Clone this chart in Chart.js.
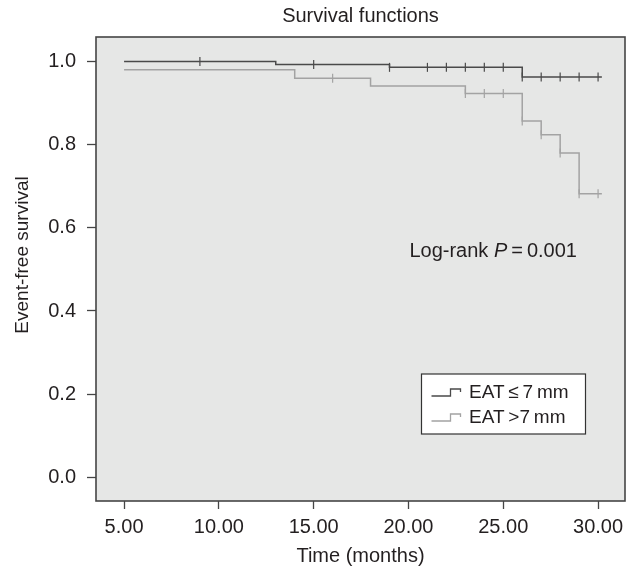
<!DOCTYPE html>
<html>
<head>
<meta charset="utf-8">
<script src="https://cdn.jsdelivr.net/npm/chart.js@4.4.1/dist/chart.umd.min.js"></script>
<style>
  html, body { margin: 0; padding: 0; background: #fff; }
  #wrap { width: 637px; height: 571px; }
</style>
</head>
<body>
<div id="wrap"><canvas id="km" width="637" height="571"></canvas></div>
<script>
// Kaplan-Meier steps: time (months) and survival after the event
const lowTimes = [5, 13, 19, 26, 30.2];
const lowSurv = [1.0, 0.993, 0.986, 0.963, 0.963];
const highTimes = [5, 14, 18, 23, 26, 27, 28, 29, 30.2];
const highSurv = [0.980, 0.960, 0.941, 0.923, 0.857, 0.824, 0.780, 0.682, 0.682];

// censored cases (time)
const lowCensor = [9, 15, 19, 21, 22, 23, 24, 25, 26, 27, 28, 29, 30];
const highCensor = [16, 23, 24, 25, 26, 27, 28, 29, 30];

const xTicks = [5, 10, 15, 20, 25, 30];
const yTicks = [0, 0.2, 0.4, 0.6, 0.8, 1.0];
const groupLabels = ["EAT\u2009\u2264\u20097\u2009mm", "EAT\u2009>7\u2009mm"];

const FONT = "'Liberation Sans', Arial, Helvetica, sans-serif";
const TEXT = "#231f20";
const DARK = "#4a4a4a";
const LIGHT = "#a3a3a3";
const FRAME = "#454545";

function survAt(times, surv, t) {
  let s = surv[0];
  for (let i = 0; i < times.length; i++) {
    if (times[i] <= t) s = surv[i];
  }
  return s;
}

const stepData = (times, surv) => times.map((t, i) => ({ x: t, y: surv[i] }));
const censorData = (cens, times, surv) => cens.map(t => ({ x: t, y: survAt(times, surv, t) }));

// grey plot background + frame
const plotFrame = {
  id: "plotFrame",
  beforeDatasetsDraw(chart) {
    const { ctx, chartArea: a } = chart;
    ctx.save();
    ctx.fillStyle = "#e6e7e6";
    ctx.fillRect(a.left, a.top, a.right - a.left, a.bottom - a.top);
    ctx.strokeStyle = FRAME;
    ctx.lineWidth = 1.6;
    ctx.strokeRect(a.left, a.top, a.right - a.left, a.bottom - a.top);
    ctx.restore();
  }
};

// y axis title (sits a little above the middle of the axis in the original)
const yTitle = {
  id: "yTitle",
  afterDraw(chart) {
    const { ctx, chartArea: a } = chart;
    ctx.save();
    ctx.translate(23, a.top + 218);
    ctx.rotate(-Math.PI / 2);
    ctx.fillStyle = TEXT;
    ctx.font = "19px " + FONT;
    ctx.textAlign = "center";
    ctx.textBaseline = "middle";
    ctx.fillText("Event-free survival", 0, 0);
    ctx.restore();
  }
};

// log-rank text
const logRank = {
  id: "logRank",
  afterDatasetsDraw(chart) {
    const { ctx, scales } = chart;
    let x = scales.x.getPixelForValue(20.05);
    const y = scales.y.getPixelForValue(0.544);
    ctx.save();
    ctx.fillStyle = TEXT;
    ctx.textBaseline = "middle";
    ctx.textAlign = "left";
    const parts = [["Log-rank ", "normal"], ["P", "italic"], ["\u2009=\u20090.001", "normal"]];
    parts.forEach(([s, style]) => {
      ctx.font = style + " 20px " + FONT;
      ctx.fillText(s, x, y);
      x += ctx.measureText(s).width;
    });
    ctx.restore();
  }
};

// boxed legend with step glyphs
const stepLegend = {
  id: "stepLegend",
  afterDraw(chart) {
    const { ctx, chartArea: a } = chart;
    const left = a.right - 203.5, top = a.bottom - 127;
    const w = 164, h = 60;
    ctx.save();
    ctx.fillStyle = "#fff";
    ctx.fillRect(left, top, w, h);
    ctx.strokeStyle = "#333";
    ctx.lineWidth = 1.2;
    ctx.strokeRect(left, top, w, h);
    const colors = [DARK, LIGHT];
    groupLabels.forEach((lab, i) => {
      const cy = top + 18 + i * 25;
      const gx = left + 10;
      ctx.strokeStyle = colors[i];
      ctx.lineWidth = 1.3;
      ctx.beginPath();
      ctx.moveTo(gx, cy + 4);
      ctx.lineTo(gx + 19, cy + 4);
      ctx.lineTo(gx + 19, cy - 3);
      ctx.lineTo(gx + 29, cy - 3);
      ctx.lineTo(gx + 29, cy);
      ctx.stroke();
      ctx.fillStyle = TEXT;
      ctx.font = "19px " + FONT;
      ctx.textBaseline = "middle";
      ctx.fillText(lab, left + 47.5, cy + 1);
    });
    ctx.restore();
  }
};

const lineSet = (label, data, color) => ({
  label, data, type: "line", stepped: "before",
  borderColor: color, borderWidth: 1.5, pointRadius: 0, fill: false
});
const censorSet = (label, data, color) => ({
  label, data, type: "scatter", showLine: false,
  pointStyle: "line", rotation: 90, radius: 4.5,
  borderColor: color, borderWidth: 1.2, backgroundColor: color
});

new Chart(document.getElementById("km"), {
  type: "scatter",
  data: {
    datasets: [
      lineSet(groupLabels[1], stepData(highTimes, highSurv), LIGHT),
      censorSet(groupLabels[1] + " censored", censorData(highCensor, highTimes, highSurv), LIGHT),
      lineSet(groupLabels[0], stepData(lowTimes, lowSurv), DARK),
      censorSet(groupLabels[0] + " censored", censorData(lowCensor, lowTimes, lowSurv), DARK)
    ]
  },
  options: {
    responsive: false,
    animation: false,
    layout: { padding: { left: 0, right: 12, top: 0, bottom: 0 } },
    plugins: {
      legend: { display: false },
      tooltip: { enabled: false },
      title: {
        display: true,
        text: "Survival functions",
        fullSize: false,
        color: TEXT,
        font: { family: FONT, size: 20, weight: "normal" },
        padding: { top: 4, bottom: 9 }
      }
    },
    scales: {
      x: {
        type: "linear",
        min: 3.52,
        max: 31.42,
        afterBuildTicks: s => { s.ticks = xTicks.map(v => ({ value: v })); },
        afterFit: s => { s.height = 70; },
        border: { display: false },
        grid: { drawOnChartArea: false, drawTicks: true, tickLength: 8, tickColor: FRAME, tickWidth: 1.3 },
        ticks: {
          color: TEXT, padding: 6, maxRotation: 0, autoSkip: false,
          font: { family: FONT, size: 20 },
          callback: v => Number(v).toFixed(2)
        },
        title: {
          display: true, text: "Time (months)", color: TEXT,
          font: { family: FONT, size: 20 },
          padding: { top: 0, bottom: 3 }
        }
      },
      y: {
        min: -0.057,
        max: 1.059,
        afterBuildTicks: s => { s.ticks = yTicks.map(v => ({ value: v })); },
        afterFit: s => { s.width = 96; },
        border: { display: false },
        grid: { drawOnChartArea: false, drawTicks: true, tickLength: 9, tickColor: FRAME, tickWidth: 1.3 },
        ticks: {
          color: TEXT, padding: 11, autoSkip: false,
          font: { family: FONT, size: 20 },
          callback: v => Number(v).toFixed(1)
        }
      }
    }
  },
  plugins: [plotFrame, yTitle, logRank, stepLegend]
});
</script>
</body>
</html>
